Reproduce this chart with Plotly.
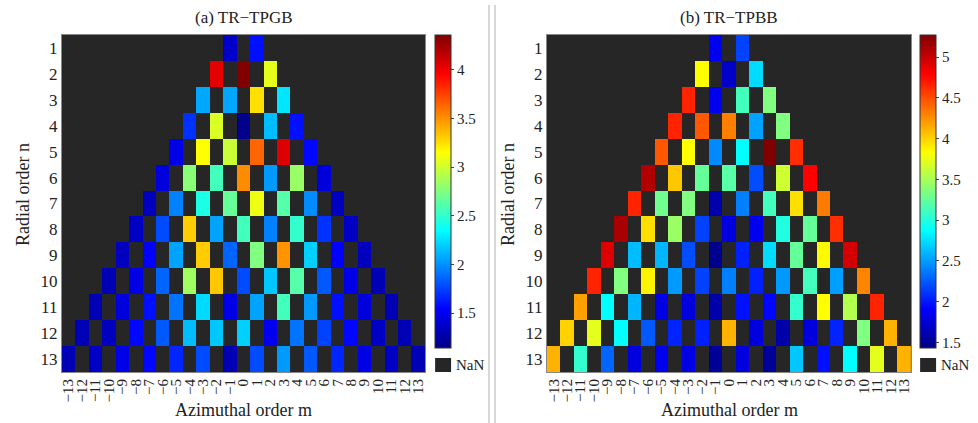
import plotly.graph_objects as go
import numpy as np

# Radial orders and azimuthal orders
n_values = list(range(1, 14))
m_values = list(range(-13, 14))
m_labels = [("\u2212" + str(-m)) if m < 0 else str(m) for m in m_values]

# Values per radial order n, listed for m = -n, -n+2, ..., n
tpgb_rows = [
    [1.37, 1.59],
    [4.04, 4.36, 3.07],
    [2.07, 2.07, 3.25, 2.27],
    [1.70, 3.04, 1.17, 2.14, 1.59],
    [1.46, 3.15, 2.98, 3.64, 4.07, 1.56],
    [1.43, 2.78, 2.56, 3.52, 2.03, 2.83, 1.43],
    [1.33, 1.95, 2.43, 2.67, 3.10, 2.62, 1.98, 1.33],
    [1.35, 1.78, 3.31, 2.06, 2.56, 1.95, 2.51, 1.70, 1.35],
    [1.33, 1.54, 2.06, 3.31, 1.86, 2.75, 3.49, 2.20, 1.54, 1.33],
    [1.30, 1.46, 1.86, 2.85, 3.33, 1.78, 2.17, 2.62, 1.82, 1.46, 1.30],
    [1.30, 1.43, 1.59, 1.91, 2.23, 1.46, 2.06, 2.56, 2.03, 1.59, 1.43, 1.30],
    [1.30, 1.33, 1.56, 1.82, 2.14, 2.17, 2.20, 1.49, 1.91, 1.75, 1.56, 1.35, 1.30],
    [1.30, 1.35, 1.46, 1.56, 1.66, 1.78, 1.30, 1.78, 2.03, 1.82, 1.66, 1.46, 1.35, 1.30],
]
tpbb_rows = [
    [1.85, 2.16],
    [3.83, 1.70, 2.74],
    [4.66, 1.85, 3.12, 3.35],
    [4.66, 4.46, 4.31, 2.52, 3.35],
    [4.46, 3.83, 2.43, 2.87, 5.27, 4.62],
    [5.08, 4.04, 3.25, 3.20, 2.20, 3.64, 4.79],
    [4.66, 3.29, 3.35, 1.58, 2.39, 3.12, 3.95, 4.33],
    [5.12, 3.95, 3.45, 2.16, 1.78, 1.85, 2.99, 3.25, 4.62],
    [4.92, 2.62, 2.60, 2.20, 1.47, 2.03, 2.74, 3.25, 3.85, 4.96],
    [4.66, 3.35, 3.87, 2.49, 2.16, 2.39, 2.03, 2.49, 3.12, 2.51, 4.29],
    [4.19, 2.87, 2.60, 1.81, 1.78, 1.58, 1.97, 1.93, 3.06, 3.83, 3.54, 4.66],
    [4.00, 3.73, 2.87, 2.24, 2.04, 2.03, 4.12, 1.78, 1.58, 1.78, 2.04, 3.35, 4.12],
    [4.12, 3.06, 2.29, 1.78, 1.85, 1.81, 1.51, 1.78, 1.51, 2.66, 1.97, 2.87, 3.73, 4.12],
]

tpgb_range = [1.14, 4.36]
tpbb_range = [1.43, 5.27]
tpgb_ticks = [1.5, 2, 2.5, 3, 3.5, 4]
tpbb_ticks = [1.5, 2, 2.5, 3, 3.5, 4, 4.5, 5]


def build_grid(rows):
    z = np.full((len(n_values), len(m_values)), np.nan)
    for i, n in enumerate(n_values):
        ms = list(range(-n, n + 1, 2))
        for m, v in zip(ms, rows[i]):
            z[i, m + 13] = v
    return z


jet = [
    [0.0, "rgb(0,0,132)"],
    [0.125, "rgb(0,0,255)"],
    [0.375, "rgb(0,255,255)"],
    [0.625, "rgb(255,255,0)"],
    [0.875, "rgb(255,0,0)"],
    [1.0, "rgb(128,0,0)"],
]

W, H = 978, 423
FONT = "Liberation Serif"
NAN_COLOR = "#262626"


def px(x):
    return x / W


def py(y):
    return 1 - y / H


fig = go.Figure()

panels = [
    dict(rows=tpgb_rows, rng=tpgb_range, ticks=tpgb_ticks, xa="x", ya="y",
         x0=61, x1=425, cb=435, title="(a) TR\u2212TPGB", ytitle_x=22),
    dict(rows=tpbb_rows, rng=tpbb_range, ticks=tpbb_ticks, xa="x2", ya="y2",
         x0=547, x1=912, cb=921, title="(b) TR\u2212TPBB", ytitle_x=508),
]

top, bottom = 35, 372
cb_bottom = 348

annotations = []
shapes = []
for p in panels:
    z = build_grid(p["rows"])
    fig.add_trace(go.Heatmap(
        x=m_values, y=n_values, z=z,
        xaxis=p["xa"], yaxis=p["ya"],
        colorscale=jet, zmin=p["rng"][0], zmax=p["rng"][1],
        hoverongaps=False,
        colorbar=dict(
            x=px(p["cb"]), xanchor="left", y=py(top), yanchor="top",
            len=(cb_bottom - top) / H, lenmode="fraction",
            thickness=16, thicknessmode="pixels",
            xpad=0, ypad=0, outlinewidth=1, outlinecolor="#333333",
            tickvals=p["ticks"], ticks="outside", ticklen=3,
            tickfont=dict(family=FONT, size=15, color="#222222"),
        ),
    ))
    cx = (p["x0"] + p["x1"]) / 2
    annotations.append(dict(text=p["title"], x=px(cx), y=py(18), xref="paper", yref="paper",
                            showarrow=False, font=dict(family=FONT, size=17, color="#222222"),
                            xanchor="center", yanchor="middle"))
    annotations.append(dict(text="Azimuthal order m", x=px(cx), y=py(410), xref="paper", yref="paper",
                            showarrow=False, font=dict(family=FONT, size=18, color="#222222"),
                            xanchor="center", yanchor="middle"))
    annotations.append(dict(text="Radial order n", x=px(p["ytitle_x"]), y=py(194), xref="paper", yref="paper",
                            showarrow=False, textangle=-90, font=dict(family=FONT, size=18, color="#222222"),
                            xanchor="center", yanchor="middle"))
    # NaN legend box
    shapes.append(dict(type="rect", xref="paper", yref="paper",
                       x0=px(p["cb"]), x1=px(p["cb"] + 16), y0=py(372), y1=py(358),
                       fillcolor=NAN_COLOR, line=dict(width=0)))
    annotations.append(dict(text="NaN", x=px(p["cb"] + 19), y=py(365), xref="paper", yref="paper",
                            showarrow=False, font=dict(family=FONT, size=15, color="#222222"),
                            xanchor="left", yanchor="middle"))

# separator lines
for xs in (489, 495):
    shapes.append(dict(type="line", xref="paper", yref="paper", x0=px(xs), x1=px(xs),
                       y0=0, y1=py(5), line=dict(color="#b0b0b0", width=1)))

axis_common = dict(showgrid=False, zeroline=False, showline=True, mirror=True,
                   linecolor="#888888", linewidth=1, ticks="")

xaxis_cfg = dict(axis_common, range=[-13.5, 13.5], tickvals=m_values, ticktext=m_labels,
                 tickangle=-90, tickfont=dict(family=FONT, size=15, color="#222222"))
yaxis_cfg = dict(axis_common, range=[13.5, 0.5], tickvals=n_values,
                 tickfont=dict(family=FONT, size=17, color="#222222"))

fig.update_layout(
    width=W, height=H,
    margin=dict(l=0, r=0, t=0, b=0),
    paper_bgcolor="white", plot_bgcolor=NAN_COLOR,
    xaxis=dict(xaxis_cfg, domain=[px(61), px(425)], anchor="y"),
    yaxis=dict(yaxis_cfg, domain=[py(bottom), py(top)], anchor="x"),
    xaxis2=dict(xaxis_cfg, domain=[px(547), px(912)], anchor="y2"),
    yaxis2=dict(yaxis_cfg, domain=[py(bottom), py(top)], anchor="x2"),
    annotations=annotations,
    shapes=shapes,
    showlegend=False,
)

fig.write_html("out.html")
